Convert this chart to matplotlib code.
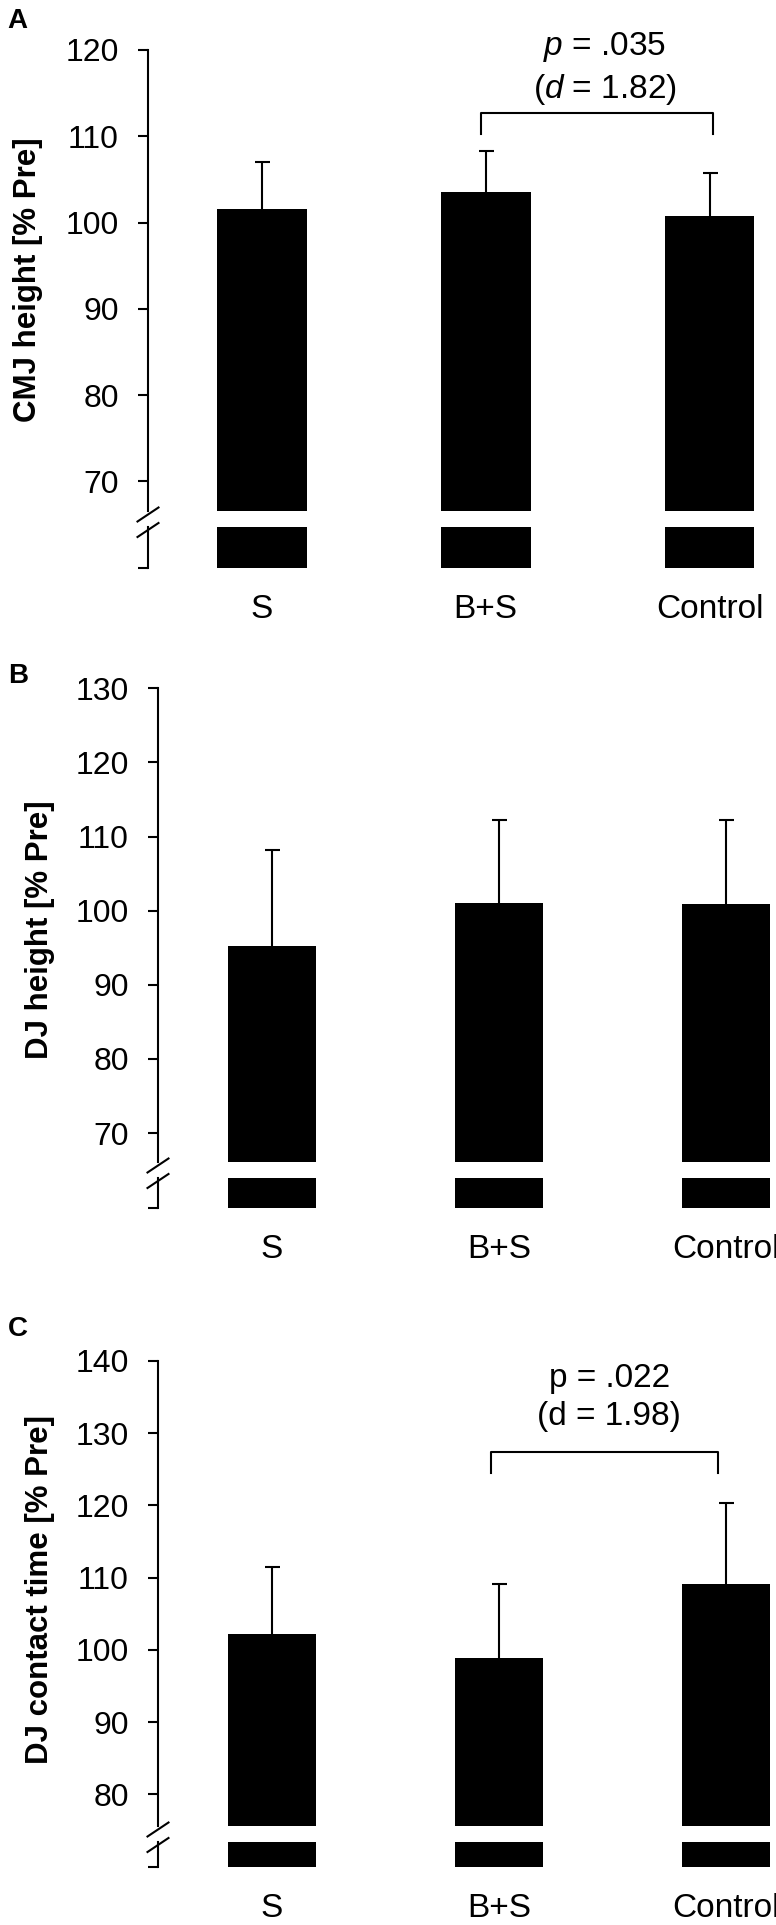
import matplotlib
matplotlib.use('Agg')
import matplotlib.pyplot as plt
from matplotlib.lines import Line2D
import numpy as np

plt.rcParams['font.family'] = ['Liberation Sans', 'DejaVu Sans']
plt.rcParams['mathtext.fontset'] = 'custom'
plt.rcParams['mathtext.rm'] = 'Liberation Sans'
plt.rcParams['mathtext.it'] = 'Liberation Sans:italic'

# ---------------- data ----------------
categories = ['S', 'B+S', 'Control']

cmj_mean = [101.6, 103.6, 100.8]
cmj_sd = [5.4, 4.7, 5.0]
cmj_ticks = [70, 80, 90, 100, 110, 120]

djh_mean = [95.3, 101.1, 100.85]
djh_sd = [12.9, 11.2, 11.45]
djh_ticks = [70, 80, 90, 100, 110, 120, 130]

djc_mean = [102.2, 98.85, 109.1]
djc_sd = [9.3, 10.25, 11.25]
djc_ticks = [80, 90, 100, 110, 120, 130, 140]

# ---------------- layout ----------------
W, H = 776, 1925
fig = plt.figure(figsize=(W / 100, H / 100), dpi=100)


def px_axes(left_px, top_px, bottom_px, right_px=W):
    return fig.add_axes([left_px / W, 1 - bottom_px / H,
                         (right_px - left_px) / W, (bottom_px - top_px) / H])


def panel(letter, letter_px, ylabel, ylabel_px, means, sds, ymin, yticks,
          spine_x, c0, spacing, top_px, ub_px, lt_px, bot_px, bar_w,
          bracket=None):
    x = np.arange(len(categories))
    xlim = (-(c0 - spine_x) / spacing, (W - c0) / spacing)
    ax = px_axes(spine_x, top_px, ub_px)
    axb = px_axes(spine_x, lt_px, bot_px)
    for a in (ax, axb):
        a.bar(x, means, width=bar_w, color='black', edgecolor='none')
        a.set_xlim(*xlim)
        for s in ('top', 'right', 'bottom'):
            a.spines[s].set_visible(False)
        a.spines['left'].set_linewidth(1.5)
        a.patch.set_alpha(0)
    eb = ax.errorbar(x, means, yerr=[np.zeros(len(x)), sds], fmt='none',
                     ecolor='black', elinewidth=1.5, capsize=5.4,
                     capthick=1.5)
    # hide the lower caps (sitting on the bar tops)
    if len(eb[1]) == 2:
        eb[1][0].set_visible(False)
    ax.set_ylim(ymin, yticks[-1])
    ax.set_yticks(yticks)
    ax.set_xticks([])
    ax.tick_params(axis='y', direction='out', length=7, width=1.5,
                   labelsize=23, pad=14, colors='black')
    axb.set_ylim(0, 1)
    axb.set_yticks([0])
    axb.set_yticklabels([''])
    axb.tick_params(axis='y', direction='out', length=7, width=1.5)
    axb.set_xticks(x)
    axb.set_xticklabels(categories, fontsize=24)
    axb.tick_params(axis='x', length=0, pad=19)

    # break marks
    gc = (ub_px + lt_px) / 2
    for off in (-4.5, 11):
        yc = gc + off
        fig.add_artist(Line2D([(spine_x - 10.5) / W, (spine_x + 10.5) / W],
                              [1 - (yc + 7) / H, 1 - (yc - 7) / H],
                              color='black', lw=1.5))

    fig.text(letter_px[0] / W, 1 - letter_px[1] / H, letter,
             fontweight='bold', fontsize=20, ha='left', va='top')
    fig.text(ylabel_px[0] / W, 1 - ylabel_px[1] / H, ylabel, rotation=90,
             fontweight='bold', fontsize=22.5, ha='center', va='center')

    if bracket is not None:
        x1, x2, ybar, yend, tx, ty1, ty2, t1, t2 = bracket
        ax.plot([x1, x1, x2, x2], [yend, ybar, ybar, yend], color='black',
                lw=1.5, clip_on=False)
        ax.text(tx, ty1, t1, ha='center', va='center', fontsize=24,
                clip_on=False)
        ax.text(tx, ty2, t2, ha='center', va='center', fontsize=24,
                clip_on=False)
    return ax, axb


panel('A', (7, 8), 'CMJ height [% Pre]', (28, 280), cmj_mean, cmj_sd,
      66.58, cmj_ticks, 148, 262, 223.75, 50, 511, 527, 568, 0.40,
      bracket=(0.979, 2.016, 112.7, 110.3, 1.533, 120.3, 115.4,
               r'$p$ = .035', r'($d$ = 1.82)'))

panel('B', (8, 663), 'DJ height [% Pre]', (40, 930), djh_mean, djh_sd,
      66.1, djh_ticks, 158, 272, 227, 688.3, 1162, 1178, 1208, 0.39)

panel('C', (8, 1316), 'DJ contact time [% Pre]', (40, 1590), djc_mean, djc_sd,
      75.64, djc_ticks, 158, 272, 227, 1361, 1825.7, 1842.3, 1866.5, 0.39,
      bracket=(0.963, 1.966, 127.4, 124.5, 1.485, 137.6, 132.3,
               'p = .022', '(d = 1.98)'))

fig.savefig('out.png', dpi=100)
